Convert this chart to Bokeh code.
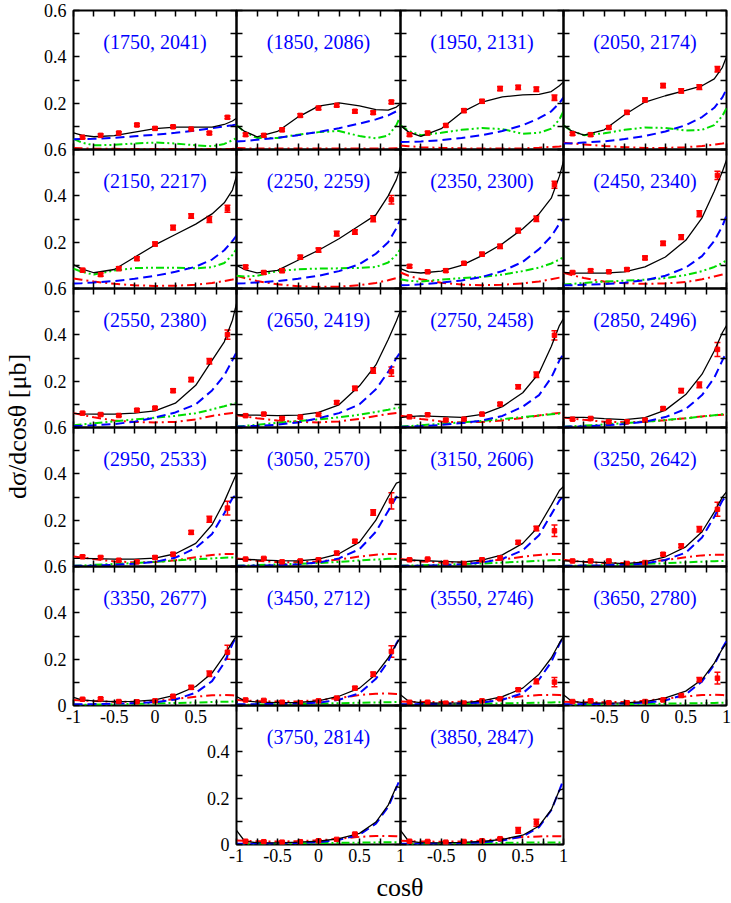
from math import pi
from bokeh.plotting import figure
from bokeh.models import (Range1d, LinearAxis, FixedTicker, ColumnDataSource,
                          Whisker, TeeHead, GridBox, Label)
from bokeh.embed import file_html
from bokeh.resources import INLINE

# ---------------- data ----------------
PANEL_LABELS = ["(1750, 2041)", "(1850, 2086)", "(1950, 2131)", "(2050, 2174)",
                "(2150, 2217)", "(2250, 2259)", "(2350, 2300)", "(2450, 2340)",
                "(2550, 2380)", "(2650, 2419)", "(2750, 2458)", "(2850, 2496)",
                "(2950, 2533)", "(3050, 2570)", "(3150, 2606)", "(3250, 2642)",
                "(3350, 2677)", "(3450, 2712)", "(3550, 2746)", "(3650, 2780)",
                "(3750, 2814)", "(3850, 2847)"]

X_DATA = [-0.889, -0.667, -0.444, -0.222, 0.0, 0.222, 0.444, 0.667, 0.889]

Y_DATA = [
    [0.053, 0.061, 0.071, 0.106, 0.091, 0.098, 0.088, 0.071, 0.139],
    [0.064, 0.061, 0.085, 0.147, 0.179, 0.191, 0.165, 0.159, 0.205],
    [0.064, 0.071, 0.104, 0.168, 0.208, 0.263, 0.268, 0.260, 0.223],
    [0.068, 0.064, 0.095, 0.160, 0.214, 0.276, 0.253, 0.269, 0.346],
    [0.079, 0.060, 0.086, 0.129, 0.192, 0.263, 0.313, 0.298, 0.344],
    [0.093, 0.069, 0.077, 0.135, 0.166, 0.237, 0.244, 0.301, 0.383],
    [0.096, 0.072, 0.077, 0.109, 0.148, 0.182, 0.250, 0.301, 0.448],
    [0.069, 0.077, 0.072, 0.082, 0.132, 0.195, 0.222, 0.323, 0.488],
    [0.062, 0.056, 0.052, 0.075, 0.084, 0.159, 0.207, 0.286, 0.401],
    [0.051, 0.058, 0.039, 0.045, 0.056, 0.108, 0.169, 0.246, 0.241],
    [0.046, 0.055, 0.032, 0.036, 0.058, 0.101, 0.176, 0.228, 0.398],
    [0.036, 0.039, 0.025, 0.025, 0.032, 0.082, 0.159, 0.184, 0.337],
    [0.042, 0.039, 0.027, 0.020, 0.039, 0.053, 0.147, 0.204, 0.252],
    [0.032, 0.035, 0.020, 0.024, 0.029, 0.058, 0.109, 0.233, 0.283],
    [0.029, 0.032, 0.017, 0.013, 0.029, 0.037, 0.104, 0.164, 0.154],
    [0.024, 0.024, 0.024, 0.013, 0.017, 0.053, 0.089, 0.161, 0.247],
    [0.027, 0.029, 0.017, 0.016, 0.020, 0.040, 0.078, 0.137, 0.230],
    [0.024, 0.022, 0.014, 0.012, 0.020, 0.032, 0.075, 0.135, 0.233],
    [0.014, 0.014, 0.010, 0.010, 0.020, 0.029, 0.068, 0.104, 0.101],
    [0.017, 0.020, 0.012, 0.012, 0.017, 0.024, 0.043, 0.111, 0.118],
    [0.014, 0.012, 0.010, 0.012, 0.016, 0.022, 0.045],
    [0.014, 0.013, 0.010, 0.013, 0.016, 0.025, 0.061, 0.094],
]

Y_ERR = [
    [0.006, 0.006, 0.006, 0.006, 0.006, 0.006, 0.006, 0.006, 0.006],
    [0.007, 0.007, 0.007, 0.007, 0.007, 0.007, 0.007, 0.007, 0.007],
    [0.007, 0.007, 0.007, 0.008, 0.008, 0.009, 0.009, 0.010, 0.012],
    [0.007, 0.007, 0.007, 0.008, 0.008, 0.009, 0.009, 0.010, 0.012],
    [0.007, 0.007, 0.008, 0.008, 0.009, 0.010, 0.010, 0.013, 0.015],
    [0.007, 0.007, 0.008, 0.008, 0.009, 0.010, 0.010, 0.013, 0.018],
    [0.006, 0.006, 0.007, 0.007, 0.008, 0.009, 0.010, 0.012, 0.015],
    [0.006, 0.006, 0.006, 0.007, 0.008, 0.009, 0.010, 0.013, 0.018],
    [0.005, 0.005, 0.005, 0.006, 0.006, 0.008, 0.009, 0.012, 0.020],
    [0.005, 0.005, 0.005, 0.006, 0.006, 0.008, 0.009, 0.012, 0.020],
    [0.005, 0.005, 0.005, 0.005, 0.006, 0.007, 0.009, 0.012, 0.020],
    [0.005, 0.005, 0.005, 0.005, 0.006, 0.007, 0.009, 0.012, 0.030],
    [0.005, 0.005, 0.005, 0.005, 0.006, 0.007, 0.008, 0.013, 0.030],
    [0.004, 0.004, 0.004, 0.005, 0.005, 0.007, 0.008, 0.012, 0.035],
    [0.004, 0.004, 0.004, 0.004, 0.005, 0.006, 0.008, 0.010, 0.025],
    [0.004, 0.004, 0.004, 0.004, 0.005, 0.006, 0.008, 0.012, 0.030],
    [0.004, 0.004, 0.004, 0.004, 0.004, 0.006, 0.008, 0.012, 0.030],
    [0.004, 0.004, 0.004, 0.004, 0.004, 0.005, 0.007, 0.010, 0.025],
    [0.004, 0.004, 0.004, 0.004, 0.004, 0.005, 0.007, 0.010, 0.020],
    [0.004, 0.004, 0.004, 0.004, 0.004, 0.005, 0.006, 0.010, 0.025],
    [0.003, 0.003, 0.003, 0.003, 0.004, 0.004, 0.005],
    [0.003, 0.003, 0.003, 0.003, 0.004, 0.004, 0.012, 0.015],
]

X_CURVE = [-1.0, -0.9, -0.75, -0.5, -0.25, 0.0, 0.25, 0.5, 0.7, 0.85, 0.95, 1.0]

BLACK = [
    [0.072, 0.062, 0.055, 0.060, 0.075, 0.090, 0.097, 0.097, 0.097, 0.108, 0.123, 0.135],
    [0.104, 0.078, 0.055, 0.078, 0.140, 0.187, 0.201, 0.188, 0.172, 0.170, 0.183, 0.198],
    [0.104, 0.075, 0.057, 0.090, 0.160, 0.205, 0.227, 0.236, 0.238, 0.250, 0.275, 0.292],
    [0.104, 0.080, 0.062, 0.085, 0.150, 0.205, 0.232, 0.255, 0.275, 0.305, 0.355, 0.400],
    [0.103, 0.085, 0.068, 0.082, 0.135, 0.188, 0.233, 0.278, 0.322, 0.370, 0.425, 0.485],
    [0.100, 0.082, 0.067, 0.078, 0.122, 0.165, 0.215, 0.272, 0.318, 0.400, 0.470, 0.525],
    [0.086, 0.072, 0.067, 0.075, 0.100, 0.142, 0.193, 0.258, 0.322, 0.390, 0.485, 0.550],
    [0.069, 0.067, 0.066, 0.066, 0.072, 0.093, 0.136, 0.208, 0.305, 0.420, 0.505, 0.555],
    [0.061, 0.059, 0.058, 0.058, 0.062, 0.072, 0.105, 0.182, 0.290, 0.370, 0.463, 0.535],
    [0.055, 0.054, 0.053, 0.051, 0.053, 0.065, 0.098, 0.180, 0.270, 0.380, 0.460, 0.505],
    [0.043, 0.047, 0.050, 0.047, 0.044, 0.057, 0.090, 0.150, 0.235, 0.350, 0.440, 0.470],
    [0.043, 0.044, 0.044, 0.038, 0.034, 0.043, 0.075, 0.142, 0.230, 0.330, 0.410, 0.440],
    [0.035, 0.035, 0.034, 0.032, 0.032, 0.036, 0.055, 0.100, 0.180, 0.280, 0.360, 0.400],
    [0.032, 0.031, 0.029, 0.025, 0.024, 0.032, 0.055, 0.105, 0.200, 0.300, 0.360, 0.366],
    [0.029, 0.028, 0.026, 0.022, 0.019, 0.028, 0.050, 0.100, 0.175, 0.265, 0.328, 0.345],
    [0.024, 0.023, 0.021, 0.017, 0.012, 0.020, 0.042, 0.085, 0.150, 0.235, 0.300, 0.322],
    [0.035, 0.024, 0.020, 0.017, 0.018, 0.024, 0.045, 0.082, 0.140, 0.215, 0.275, 0.302],
    [0.039, 0.020, 0.015, 0.012, 0.013, 0.020, 0.040, 0.075, 0.135, 0.205, 0.265, 0.294],
    [0.046, 0.018, 0.012, 0.010, 0.011, 0.020, 0.038, 0.075, 0.135, 0.205, 0.270, 0.298],
    [0.046, 0.018, 0.012, 0.010, 0.011, 0.017, 0.033, 0.062, 0.112, 0.183, 0.245, 0.269],
    [0.061, 0.014, 0.008, 0.007, 0.010, 0.014, 0.025, 0.048, 0.097, 0.170, 0.250, 0.245],
    [0.061, 0.014, 0.008, 0.007, 0.009, 0.013, 0.022, 0.040, 0.080, 0.150, 0.235, 0.240],
]

BLUE = [
    [0.044, 0.045, 0.046, 0.050, 0.057, 0.064, 0.072, 0.082, 0.092, 0.100, 0.105, 0.108],
    [0.035, 0.037, 0.042, 0.050, 0.062, 0.076, 0.092, 0.112, 0.130, 0.147, 0.165, 0.178],
    [0.032, 0.033, 0.035, 0.040, 0.050, 0.062, 0.080, 0.105, 0.135, 0.165, 0.200, 0.225],
    [0.026, 0.027, 0.030, 0.035, 0.045, 0.058, 0.078, 0.105, 0.140, 0.180, 0.225, 0.260],
    [0.022, 0.023, 0.026, 0.032, 0.042, 0.055, 0.072, 0.094, 0.125, 0.165, 0.205, 0.228],
    [0.022, 0.023, 0.026, 0.032, 0.042, 0.055, 0.075, 0.105, 0.150, 0.200, 0.260, 0.300],
    [0.014, 0.015, 0.018, 0.025, 0.035, 0.050, 0.075, 0.115, 0.170, 0.225, 0.280, 0.305],
    [0.014, 0.014, 0.016, 0.019, 0.025, 0.036, 0.055, 0.090, 0.140, 0.205, 0.270, 0.315],
    [0.007, 0.008, 0.010, 0.015, 0.025, 0.043, 0.065, 0.100, 0.160, 0.225, 0.290, 0.325],
    [0.004, 0.005, 0.007, 0.012, 0.022, 0.040, 0.062, 0.100, 0.165, 0.240, 0.300, 0.325],
    [0.003, 0.004, 0.006, 0.011, 0.019, 0.030, 0.050, 0.090, 0.140, 0.215, 0.290, 0.318],
    [0.003, 0.004, 0.005, 0.009, 0.015, 0.025, 0.045, 0.080, 0.140, 0.215, 0.290, 0.325],
    [0.003, 0.003, 0.004, 0.007, 0.012, 0.020, 0.038, 0.080, 0.140, 0.230, 0.295, 0.312],
    [0.003, 0.003, 0.004, 0.006, 0.010, 0.017, 0.035, 0.075, 0.150, 0.240, 0.300, 0.318],
    [0.003, 0.003, 0.004, 0.006, 0.010, 0.017, 0.033, 0.070, 0.135, 0.225, 0.285, 0.305],
    [0.003, 0.003, 0.004, 0.005, 0.008, 0.013, 0.028, 0.060, 0.125, 0.215, 0.285, 0.305],
    [0.005, 0.005, 0.006, 0.008, 0.010, 0.014, 0.026, 0.055, 0.105, 0.185, 0.265, 0.300],
    [0.005, 0.005, 0.006, 0.007, 0.009, 0.012, 0.025, 0.053, 0.115, 0.190, 0.268, 0.298],
    [0.005, 0.005, 0.006, 0.007, 0.009, 0.012, 0.025, 0.053, 0.112, 0.188, 0.265, 0.298],
    [0.005, 0.005, 0.006, 0.007, 0.009, 0.012, 0.022, 0.048, 0.104, 0.176, 0.248, 0.279],
    [0.003, 0.003, 0.004, 0.005, 0.007, 0.010, 0.020, 0.042, 0.090, 0.162, 0.245, 0.288],
    [0.003, 0.003, 0.004, 0.005, 0.006, 0.009, 0.017, 0.035, 0.075, 0.148, 0.235, 0.280],
]

GREEN = [
    [0.046, 0.030, 0.018, 0.020, 0.026, 0.030, 0.026, 0.018, 0.014, 0.024, 0.040, 0.050],
    [0.105, 0.075, 0.050, 0.050, 0.064, 0.075, 0.080, 0.058, 0.048, 0.060, 0.105, 0.145],
    [0.104, 0.080, 0.062, 0.072, 0.085, 0.093, 0.088, 0.068, 0.072, 0.090, 0.130, 0.165],
    [0.104, 0.080, 0.062, 0.070, 0.085, 0.095, 0.093, 0.082, 0.085, 0.105, 0.145, 0.178],
    [0.086, 0.072, 0.060, 0.078, 0.088, 0.090, 0.090, 0.087, 0.092, 0.110, 0.145, 0.170],
    [0.055, 0.052, 0.055, 0.075, 0.083, 0.086, 0.087, 0.089, 0.093, 0.112, 0.145, 0.170],
    [0.040, 0.033, 0.030, 0.038, 0.045, 0.050, 0.060, 0.075, 0.090, 0.108, 0.125, 0.135],
    [0.017, 0.020, 0.024, 0.030, 0.034, 0.038, 0.045, 0.058, 0.075, 0.093, 0.110, 0.122],
    [0.010, 0.013, 0.018, 0.027, 0.035, 0.042, 0.050, 0.062, 0.078, 0.092, 0.102, 0.106],
    [0.004, 0.007, 0.012, 0.020, 0.028, 0.035, 0.044, 0.055, 0.067, 0.077, 0.084, 0.087],
    [0.004, 0.006, 0.010, 0.016, 0.022, 0.028, 0.036, 0.045, 0.052, 0.057, 0.060, 0.061],
    [0.003, 0.005, 0.008, 0.013, 0.019, 0.025, 0.032, 0.040, 0.047, 0.053, 0.057, 0.058],
    [0.003, 0.004, 0.007, 0.011, 0.015, 0.020, 0.026, 0.031, 0.035, 0.038, 0.039, 0.039],
    [0.003, 0.004, 0.006, 0.009, 0.012, 0.015, 0.020, 0.026, 0.030, 0.033, 0.034, 0.034],
    [0.003, 0.004, 0.005, 0.008, 0.010, 0.013, 0.017, 0.021, 0.025, 0.027, 0.028, 0.029],
    [0.003, 0.003, 0.004, 0.006, 0.008, 0.011, 0.014, 0.018, 0.021, 0.023, 0.024, 0.025],
    [0.003, 0.003, 0.004, 0.005, 0.007, 0.009, 0.011, 0.013, 0.015, 0.016, 0.017, 0.017],
    [0.003, 0.003, 0.004, 0.005, 0.006, 0.008, 0.010, 0.012, 0.013, 0.014, 0.015, 0.015],
    [0.003, 0.003, 0.004, 0.005, 0.006, 0.008, 0.009, 0.011, 0.012, 0.013, 0.014, 0.014],
    [0.003, 0.003, 0.004, 0.005, 0.006, 0.007, 0.008, 0.009, 0.010, 0.011, 0.012, 0.012],
    [0.002, 0.002, 0.003, 0.004, 0.005, 0.006, 0.007, 0.008, 0.009, 0.010, 0.010, 0.010],
    [0.002, 0.002, 0.003, 0.004, 0.005, 0.006, 0.007, 0.008, 0.009, 0.009, 0.009, 0.009],
]

RED = [
    [0.006, 0.005, 0.004, 0.003, 0.002, 0.002, 0.002, 0.002, 0.002, 0.002, 0.003, 0.004],
    [0.006, 0.005, 0.004, 0.004, 0.004, 0.004, 0.004, 0.004, 0.004, 0.004, 0.005, 0.005],
    [0.017, 0.014, 0.010, 0.007, 0.005, 0.004, 0.004, 0.005, 0.008, 0.011, 0.013, 0.015],
    [0.029, 0.026, 0.022, 0.015, 0.010, 0.007, 0.007, 0.010, 0.015, 0.021, 0.026, 0.029],
    [0.043, 0.038, 0.030, 0.020, 0.014, 0.011, 0.012, 0.016, 0.024, 0.032, 0.039, 0.043],
    [0.055, 0.045, 0.032, 0.018, 0.010, 0.007, 0.008, 0.014, 0.024, 0.036, 0.045, 0.050],
    [0.069, 0.055, 0.040, 0.025, 0.017, 0.014, 0.016, 0.022, 0.030, 0.040, 0.047, 0.050],
    [0.068, 0.058, 0.045, 0.030, 0.023, 0.020, 0.022, 0.028, 0.040, 0.052, 0.060, 0.065],
    [0.062, 0.055, 0.044, 0.030, 0.024, 0.022, 0.024, 0.035, 0.050, 0.058, 0.063, 0.065],
    [0.053, 0.048, 0.040, 0.030, 0.024, 0.022, 0.026, 0.037, 0.050, 0.058, 0.063, 0.065],
    [0.051, 0.046, 0.037, 0.026, 0.022, 0.024, 0.030, 0.041, 0.052, 0.059, 0.063, 0.065],
    [0.043, 0.039, 0.033, 0.025, 0.023, 0.025, 0.031, 0.040, 0.048, 0.053, 0.055, 0.055],
    [0.043, 0.039, 0.032, 0.022, 0.018, 0.019, 0.027, 0.040, 0.050, 0.054, 0.054, 0.053],
    [0.035, 0.031, 0.025, 0.019, 0.018, 0.022, 0.030, 0.043, 0.051, 0.054, 0.054, 0.053],
    [0.032, 0.028, 0.022, 0.017, 0.018, 0.022, 0.030, 0.042, 0.050, 0.054, 0.054, 0.053],
    [0.029, 0.025, 0.020, 0.015, 0.015, 0.020, 0.028, 0.040, 0.048, 0.051, 0.051, 0.050],
    [0.024, 0.022, 0.019, 0.016, 0.016, 0.020, 0.028, 0.038, 0.044, 0.045, 0.044, 0.042],
    [0.024, 0.022, 0.019, 0.017, 0.018, 0.023, 0.032, 0.045, 0.051, 0.052, 0.050, 0.049],
    [0.017, 0.016, 0.015, 0.015, 0.016, 0.020, 0.030, 0.040, 0.045, 0.046, 0.045, 0.043],
    [0.016, 0.015, 0.014, 0.014, 0.016, 0.020, 0.030, 0.039, 0.045, 0.046, 0.045, 0.043],
    [0.017, 0.016, 0.014, 0.013, 0.014, 0.018, 0.025, 0.033, 0.037, 0.037, 0.036, 0.035],
    [0.016, 0.015, 0.013, 0.012, 0.013, 0.017, 0.024, 0.032, 0.035, 0.036, 0.036, 0.035],
]

X_TICKS = [-1.0, -0.75, -0.5, -0.25, 0.0, 0.25, 0.5, 0.75, 1.0]
Y_TICKS = [0.0, 0.1, 0.2, 0.3, 0.4, 0.5, 0.6]
X_TICK_TEXT = {-1.0: "-1", -0.5: "-0.5", 0.0: "0", 0.5: "0.5", 1.0: "1"}
Y_TICK_TEXT = {0.0: "0", 0.2: "0.2", 0.4: "0.4", 0.6: "0.6"}
Y_TITLE = "dσ/dcosθ [μb]"
X_TITLE = "cosθ"

# panel (row, col) positions in the grid
PANEL_POS = [(r, c) for r in range(5) for c in range(4)] + [(5, 1), (5, 2)]

# ---------------- layout geometry (page px) ----------------
SERIF = "Liberation Serif"
GW, GH = 731, 903
COL_LEFT = [73, 236, 400, 563]
COL_W = [163, 164, 163, 163]
ROW_TOP0 = 10
ROW_H = 139
PAD_L, PAD_R, PAD_T, PAD_B = 60, 5, 10, 34

BLACK_C, BLUE_C, GREEN_C, RED_C = "#000000", "#0000ff", "#00dd00", "#ff0000"


def y_shown(r, c):
    if c == 0 and r < 4:
        return [0.2, 0.4, 0.6]
    if c == 0 and r == 4:
        return [0.0, 0.2, 0.4, 0.6]
    if (r, c) == (5, 1):
        return [0.0, 0.2, 0.4]
    return []


def x_shown(r, c):
    if (r, c) == (4, 0):
        return [-1.0, -0.5, 0.0, 0.5]
    if (r, c) == (4, 3):
        return [-0.5, 0.0, 0.5, 1.0]
    if (r, c) == (5, 1):
        return [-1.0, -0.5, 0.0, 0.5, 1.0]
    if (r, c) == (5, 2):
        return [-0.5, 0.0, 0.5, 1.0]
    return []


def add_axis(p, side, ticks, text_map, shown):
    overrides = {t: (text_map[t] if t in shown else "") for t in ticks}
    vertical = side in ("left", "right")
    ax = LinearAxis(
        ticker=FixedTicker(ticks=ticks, minor_ticks=[]),
        major_label_overrides=overrides,
        axis_line_color=None,
        major_tick_in=6, major_tick_out=0,
        minor_tick_in=0, minor_tick_out=0,
        major_tick_line_color="black", major_tick_line_width=1.5,
        major_label_text_font=SERIF,
        major_label_text_color="black",
        major_label_text_font_size="18px" if shown else "0px",
        major_label_standoff=(7 if vertical else 4) if shown else 0,
    )
    p.add_layout(ax, side)


children = []

# background figure carrying the two axis titles; it is offset by one pixel
# from every panel edge so that the grid does not align its frame with them
BG_X0, BG_Y0 = 1, 1
BG_W, BG_H = GW - 2, GH - 2
bg = figure(width=BG_W, height=BG_H,
            x_range=Range1d(BG_X0, BG_X0 + BG_W),
            y_range=Range1d(GH - (BG_Y0 + BG_H), GH - BG_Y0),
            output_backend="svg", toolbar_location=None,
            x_axis_type=None, y_axis_type=None, min_border=0,
            outline_line_color=None, background_fill_color=None,
            border_fill_color=None)
bg.add_layout(Label(x=17, y=GH - 426, text=Y_TITLE, angle=pi / 2,
                    text_align="center", text_baseline="middle",
                    text_font=SERIF, text_font_size="26px", text_color="black"))
bg.add_layout(Label(x=(COL_LEFT[0] + COL_LEFT[3] + COL_W[3]) / 2, y=GH - 887,
                    text=X_TITLE, text_align="center", text_baseline="middle",
                    text_font=SERIF, text_font_size="26px", text_color="black"))
children.append((bg, BG_Y0, BG_X0, BG_H, BG_W))

for i, (r, c) in enumerate(PANEL_POS):
    w = COL_W[c]
    fw = PAD_L + w + PAD_R
    fh = PAD_T + ROW_H + PAD_B
    p = figure(width=fw, height=fh,
               x_range=Range1d(-1, 1), y_range=Range1d(0, 0.6),
               output_backend="svg", toolbar_location=None,
               x_axis_type=None, y_axis_type=None,
               min_border_left=PAD_L, min_border_right=PAD_R,
               min_border_top=PAD_T, min_border_bottom=PAD_B,
               background_fill_color=None, border_fill_color=None,
               outline_line_color="black", outline_line_width=2)

    add_axis(p, "left", Y_TICKS, Y_TICK_TEXT, y_shown(r, c))
    add_axis(p, "right", Y_TICKS, Y_TICK_TEXT, [])
    add_axis(p, "above", X_TICKS, X_TICK_TEXT, [])
    add_axis(p, "below", X_TICKS, X_TICK_TEXT, x_shown(r, c))

    p.line(X_CURVE, RED[i], line_color=RED_C, line_width=2, line_dash="9 4 2 4")
    p.line(X_CURVE, GREEN[i], line_color=GREEN_C, line_width=2,
           line_dash="8 3 2 3 2 3")
    p.line(X_CURVE, BLUE[i], line_color=BLUE_C, line_width=2, line_dash="9 5")
    p.line(X_CURVE, BLACK[i], line_color=BLACK_C, line_width=1.3)

    ys = Y_DATA[i]
    es = Y_ERR[i]
    xs = X_DATA[:len(ys)]
    src = ColumnDataSource(dict(x=xs, y=ys,
                                lo=[y - e for y, e in zip(ys, es)],
                                hi=[y + e for y, e in zip(ys, es)]))
    p.add_layout(Whisker(source=src, base="x", lower="lo", upper="hi",
                         line_color=RED_C, line_width=1.5,
                         lower_head=TeeHead(size=6, line_color=RED_C, line_width=1.5),
                         upper_head=TeeHead(size=6, line_color=RED_C, line_width=1.5)))
    p.scatter("x", "y", source=src, marker="square", size=4.5,
              fill_color=RED_C, line_color=RED_C)

    p.add_layout(Label(x=0, y=0.465, text=PANEL_LABELS[i],
                       text_align="center", text_baseline="middle",
                       text_font=SERIF, text_font_size="20px", text_color=BLUE_C))

    gx = COL_LEFT[c] - PAD_L
    gy = ROW_TOP0 + r * ROW_H - PAD_T
    children.append((p, gy, gx, fh, fw))

grid = GridBox(children=children, rows=["1px"] * GH, cols=["1px"] * GW, spacing=0)

open("out.html", "w").write(file_html(grid, INLINE))
